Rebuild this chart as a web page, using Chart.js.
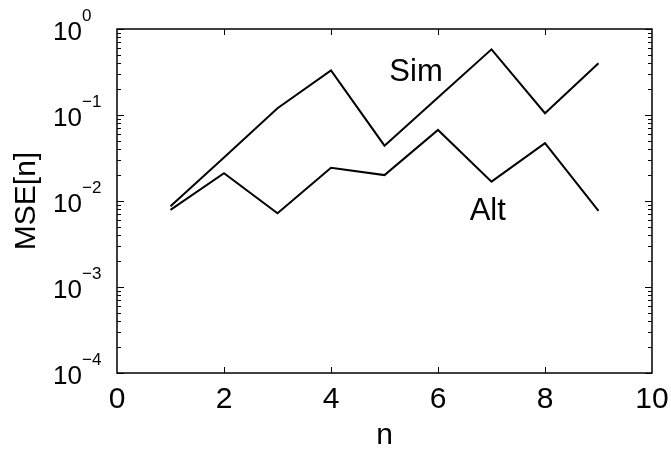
<!DOCTYPE html>
<html>
<head>
<meta charset="utf-8">
<script src="https://cdn.jsdelivr.net/npm/chart.js@4.4.1/dist/chart.umd.min.js"></script>
<style>
  html, body { margin: 0; padding: 0; background: #fff; }
</style>
</head>
<body>
<canvas id="mseChart" width="671" height="451"></canvas>
<script>
// Data
const nValues = [1, 2, 3, 4, 5, 6, 7, 8, 9];
const simValues = [0.0087, 0.032, 0.12, 0.33, 0.044, 0.16, 0.58, 0.105, 0.40];
const altValues = [0.0079, 0.021, 0.0072, 0.0244, 0.020, 0.067, 0.0168, 0.047, 0.0077];
const seriesNames = ['Sim', 'Alt'];
const xTickValues = [0, 2, 4, 6, 8, 10];
const yExponents = [0, -1, -2, -3, -4];

const FONT = "'Liberation Sans', Arial, Helvetica, sans-serif";
Chart.defaults.font.family = FONT;
Chart.defaults.color = '#000';

// where the in-plot text labels sit (data coords)
const nameSpots = [[5.59, 0.31], [6.93, 0.0075]];

const toPoints = vals => nValues.map((n, i) => ({ x: n, y: vals[i] }));

// frame, inward ticks, superscript labels and series names
const framePlugin = {
  id: 'frame',
  afterDraw(chart) {
    const { ctx, chartArea: a, scales: { x, y } } = chart;
    ctx.save();
    ctx.strokeStyle = '#000';
    ctx.lineWidth = 1.5;
    ctx.strokeRect(a.left, a.top, a.right - a.left, a.bottom - a.top);

    ctx.beginPath();
    // x ticks, top and bottom
    xTickValues.slice(1, -1).forEach(v => {
      const px = Math.round(x.getPixelForValue(v)) + 0.5;
      ctx.moveTo(px, a.bottom); ctx.lineTo(px, a.bottom - 6);
      ctx.moveTo(px, a.top); ctx.lineTo(px, a.top + 6);
    });
    // y major and minor ticks, left and right
    for (let e = -4; e <= 0; e++) {
      for (let m = 1; m <= 9; m++) {
        if (e === 0 && m > 1) break;
        const py = Math.round(y.getPixelForValue(m * Math.pow(10, e))) + 0.5;
        const len = m === 1 ? 7 : 4;
        ctx.moveTo(a.left, py); ctx.lineTo(a.left + len, py);
        ctx.moveTo(a.right, py); ctx.lineTo(a.right - len, py);
      }
    }
    ctx.lineWidth = 1;
    ctx.stroke();

    // y labels as 10 with a raised exponent
    ctx.fillStyle = '#000';
    ctx.textBaseline = 'alphabetic';
    yExponents.forEach(e => {
      const py = y.getPixelForValue(Math.pow(10, e));
      ctx.font = '26px ' + FONT;
      ctx.textAlign = 'left';
      ctx.fillText('10', a.left - 64, py + 11);
      ctx.font = '17px ' + FONT;
      ctx.fillText(e === 0 ? '0' : '\u2212' + Math.abs(e), a.left - 35, py - 8);
    });

    // series names
    ctx.font = '31px ' + FONT;
    ctx.textAlign = 'center';
    ctx.textBaseline = 'middle';
    seriesNames.forEach((name, i) => {
      ctx.fillText(name, x.getPixelForValue(nameSpots[i][0]), y.getPixelForValue(nameSpots[i][1]));
    });
    ctx.restore();
  }
};

new Chart(document.getElementById('mseChart'), {
  type: 'line',
  data: {
    datasets: [
      { label: seriesNames[0], data: toPoints(simValues) },
      { label: seriesNames[1], data: toPoints(altValues) }
    ].map(ds => Object.assign(ds, {
      borderColor: '#000',
      borderWidth: 2,
      pointRadius: 0,
      fill: false,
      tension: 0
    }))
  },
  options: {
    responsive: false,
    animation: false,
    devicePixelRatio: 1,
    layout: { padding: { left: 0, top: 29, right: 19, bottom: 0 } },
    plugins: { legend: { display: false }, tooltip: { enabled: false } },
    scales: {
      x: {
        type: 'linear',
        min: 0,
        max: 10,
        afterBuildTicks: scale => { scale.ticks = xTickValues.map(v => ({ value: v })); },
        ticks: { font: { size: 30 }, padding: 1, maxRotation: 0, color: '#000' },
        grid: { display: false },
        border: { display: false },
        title: { display: true, text: 'n', font: { size: 30 }, padding: { top: 0, bottom: -3 } },
        afterFit: scale => {
          scale.height = 78;
          scale.paddingLeft = 0;
          scale.paddingRight = 0;
        }
      },
      y: {
        type: 'logarithmic',
        min: 1e-4,
        max: 1,
        ticks: { display: false },
        grid: { display: false },
        border: { display: false },
        title: { display: true, text: 'MSE[n]', font: { size: 30 }, padding: { top: 9, bottom: 0 } },
        afterFit: scale => { scale.width = 117; }
      }
    }
  },
  plugins: [framePlugin]
});
</script>
</body>
</html>
